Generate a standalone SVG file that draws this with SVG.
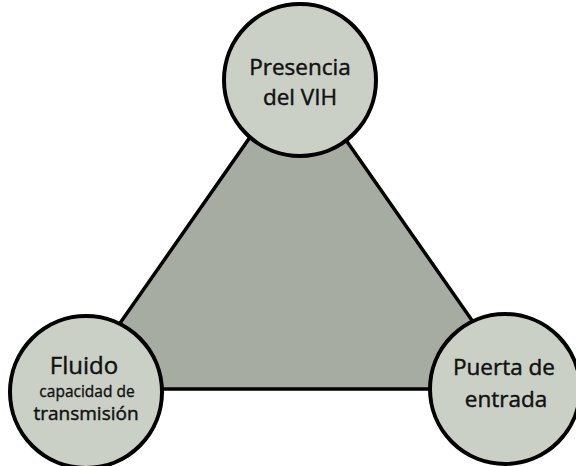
<svg xmlns="http://www.w3.org/2000/svg" width="576" height="466" viewBox="0 0 576 466">
  <style>
    .node circle { fill: #cbd0c7; stroke: #000; stroke-width: 4; }
    .tri { fill: #a6aca2; stroke: #000; stroke-width: 3.5; stroke-linejoin: round; }
    text { font-family: "Open Sans", "Noto Sans", sans-serif; fill: #111; stroke: #111; stroke-width: 0.45; text-anchor: middle; }
    .big { font-size: 22.5px; }
    .fl { font-size: 24px; }
    .mid { font-size: 19px; }
    .small { font-size: 15.5px; stroke-width: 0.35; }
  </style>
  <rect width="576" height="466" fill="#fff"/>
  <g id="connectors">
    <polygon class="tri" points="297,70 74,389 520,389"/>
  </g>
  <g id="node-vih" class="node">
    <circle cx="300" cy="80" r="76"/>
    <text class="big" x="300" y="75">Presencia</text>
    <text class="big" x="300" y="105">del VIH</text>
  </g>
  <g id="node-fluido" class="node">
    <circle cx="86" cy="392" r="76"/>
    <text class="fl" x="84" y="374">Fluido</text>
    <text class="small" x="87" y="397">capacidad de</text>
    <text class="mid" x="86" y="420">transmisión</text>
  </g>
  <g id="node-puerta" class="node">
    <circle cx="505" cy="389" r="75"/>
    <text class="big" x="504" y="375">Puerta de</text>
    <text class="big" x="506" y="407">entrada</text>
  </g>
</svg>
